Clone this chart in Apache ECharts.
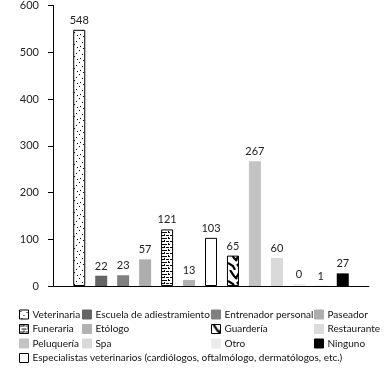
<!DOCTYPE html>
<html>
<head>
<meta charset="utf-8">
<script src="https://cdn.jsdelivr.net/npm/echarts@6/dist/echarts.min.js"></script>
<style>
  html, body { margin: 0; padding: 0; background: #fff; }
  #chart-container { width: 391px; height: 369px; }
</style>
</head>
<body>
<div id="chart-container"></div>
<script>
// bars, left to right
var servicios = ['Veterinaria', 'Escuela de adiestramiento', 'Entrenador personal', 'Paseador',
  'Funeraria', 'Etólogo', 'Especialistas veterinarios (cardiólogos, oftalmólogo, dermatólogos, etc.)',
  'Guardería', 'Peluquería', 'Spa', 'Otro', 'Restaurante', 'Ninguno'];
var valores = [548, 22, 23, 57, 121, 13, 103, 65, 267, 60, 0, 1, 27];
var yMin = 0, yMax = 600, yStep = 100;

// legend columns (as laid out under the chart)
var legendCols = [
  ['Veterinaria', 'Funeraria', 'Peluquería', 'Especialistas veterinarios (cardiólogos, oftalmólogo, dermatólogos, etc.)'],
  ['Escuela de adiestramiento', 'Etólogo', 'Spa'],
  ['Entrenador personal', 'Guardería', 'Otro'],
  ['Paseador', 'Restaurante', 'Ninguno']
];
var legendLeft = [19, 82, 211, 314];

function makeCanvas(w, h, draw) {
  var c = document.createElement('canvas');
  c.width = w; c.height = h;
  var ctx = c.getContext('2d');
  ctx.fillStyle = '#fff';
  ctx.fillRect(0, 0, w, h);
  ctx.fillStyle = '#000';
  ctx.strokeStyle = '#000';
  draw(ctx);
  return { image: c, repeat: 'repeat' };
}

var puntos = makeCanvas(12, 12, function (ctx) {
  [[1, 1], [7, 2], [4, 5], [10, 6], [2, 8], [8, 10], [5, 11], [11, 0]].forEach(function (p) {
    ctx.fillRect(p[0], p[1], 1, 1);
  });
});
var ladrillo = makeCanvas(10, 6, function (ctx) {
  ctx.fillRect(0, 1, 4, 1); ctx.fillRect(6, 1, 3, 1);
  ctx.fillRect(2, 4, 5, 1); ctx.fillRect(9, 4, 1, 1);
  ctx.fillRect(4, 0, 1, 2); ctx.fillRect(8, 3, 1, 2);
});
var cebra = makeCanvas(12, 18, function (ctx) {
  ctx.lineWidth = 2.2;
  ctx.beginPath(); ctx.moveTo(2, 0); ctx.lineTo(6, 6); ctx.lineTo(9, 9); ctx.stroke();
  ctx.beginPath(); ctx.moveTo(11, 3); ctx.lineTo(8, 8); ctx.stroke();
  ctx.beginPath(); ctx.moveTo(0, 11); ctx.lineTo(5, 14); ctx.lineTo(7, 18); ctx.stroke();
  ctx.beginPath(); ctx.moveTo(9, 12); ctx.lineTo(12, 16); ctx.stroke();
});

function liso(c) { return { color: c, borderColor: c, borderWidth: 0 }; }
function marcado(c) { return { color: c, borderColor: '#000', borderWidth: 1 }; }

var estilos = {
  'Veterinaria': marcado(puntos),
  'Escuela de adiestramiento': liso('#656565'),
  'Entrenador personal': liso('#808080'),
  'Paseador': liso('#adadad'),
  'Funeraria': marcado(ladrillo),
  'Etólogo': liso('#b1b1b1'),
  'Especialistas veterinarios (cardiólogos, oftalmólogo, dermatólogos, etc.)': marcado('#fff'),
  'Guardería': marcado(cebra),
  'Peluquería': liso('#c3c3c3'),
  'Spa': liso('#d9d9d9'),
  'Otro': liso('#ececec'),
  'Restaurante': liso('#dcdcdc'),
  'Ninguno': liso('#000')
};

var fuente = "Lato, 'Liberation Sans Narrow', sans-serif";

var chartDom = document.getElementById('chart-container');
var myChart = echarts.init(chartDom);

var option = {
  animation: false,
  textStyle: { fontFamily: fuente },
  grid: { left: 53, right: 22, top: 5, bottom: 83 },
  legend: legendCols.map(function (col, i) {
    return {
      data: col,
      orient: 'vertical',
      left: legendLeft[i],
      top: 309,
      padding: 0,
      icon: 'rect',
      itemWidth: 9,
      itemHeight: 9,
      itemGap: 3.5,
      selectedMode: false,
      itemStyle: { borderWidth: 1 },
      textStyle: { fontFamily: fuente, fontSize: 10, lineHeight: 11, color: '#111', padding: [0, 0, 0, -1] }
    };
  }),
  xAxis: {
    type: 'category',
    data: [''],
    axisLine: { lineStyle: { color: '#000', width: 1 } },
    axisTick: { show: false },
    axisLabel: { show: false }
  },
  yAxis: {
    type: 'value',
    min: yMin,
    max: yMax,
    interval: yStep,
    axisLine: { show: true, lineStyle: { color: '#000', width: 1 } },
    axisTick: { show: true, length: 5, lineStyle: { color: '#000' } },
    splitLine: { show: false },
    axisLabel: { fontFamily: fuente, fontSize: 11, color: '#222', margin: 14 }
  },
  series: servicios.map(function (nombre, i) {
    return {
      name: nombre,
      type: 'bar',
      data: [valores[i]],
      barWidth: 12,
      barGap: '83%',
      barMinHeight: nombre === 'Otro' ? 2 : 0,
      itemStyle: estilos[nombre],
      label: {
        show: true,
        position: 'top',
        distance: 4,
        fontFamily: fuente,
        fontSize: 11,
        color: '#222'
      }
    };
  })
};

option && myChart.setOption(option);
</script>
</body>
</html>
